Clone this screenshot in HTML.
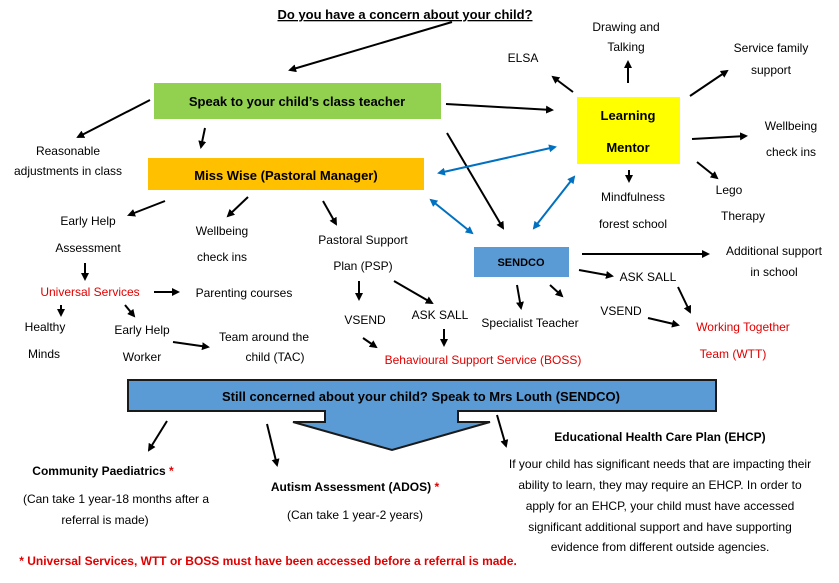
<!DOCTYPE html>
<html><head><meta charset="utf-8"><style>
html,body{margin:0;padding:0;background:#fff;}
svg{display:block;font-family:"Liberation Sans",sans-serif;}
text{font-size:12px;fill:#000;text-anchor:middle;}
.b{font-weight:bold;}
.r{fill:#e00000;}
</style></head><body>
<svg width="839" height="583" viewBox="0 0 839 583" xmlns="http://www.w3.org/2000/svg">
<defs>
<marker id="a" markerWidth="8" markerHeight="8" refX="6" refY="4" orient="auto" markerUnits="userSpaceOnUse"><path d="M0,0 L8,4 L0,8 z" fill="#000"/></marker>
<marker id="bl" markerWidth="8" markerHeight="8" refX="6" refY="4" orient="auto-start-reverse" markerUnits="userSpaceOnUse"><path d="M0,0 L8,4 L0,8 z" fill="#0070C0"/></marker>
</defs>
<text x="405" y="19" class="b" style="font-size:13px;text-decoration:underline">Do you have a concern about your child?</text>

<g stroke="#000" stroke-width="2" marker-end="url(#a)" fill="none">
<line x1="452" y1="22" x2="290" y2="70"/>
<line x1="150" y1="100" x2="78" y2="137"/>
<line x1="205" y1="128" x2="201" y2="147"/>
<line x1="446" y1="104" x2="552" y2="110"/>
<line x1="447" y1="133" x2="503" y2="228"/>
<line x1="573" y1="92" x2="553" y2="77"/>
<line x1="628" y1="83" x2="628" y2="62"/>
<line x1="690" y1="96" x2="727" y2="71"/>
<line x1="692" y1="139" x2="746" y2="136"/>
<line x1="697" y1="162" x2="717" y2="178"/>
<line x1="629" y1="170" x2="629" y2="181"/>
<line x1="165" y1="201" x2="129" y2="215"/>
<line x1="248" y1="197" x2="228" y2="216"/>
<line x1="323" y1="201" x2="336" y2="224"/>
<line x1="85" y1="263" x2="85" y2="279"/>
<line x1="154" y1="292" x2="178" y2="292"/>
<line x1="61" y1="305" x2="61" y2="315"/>
<line x1="125" y1="305" x2="134" y2="316"/>
<line x1="173" y1="342" x2="208" y2="347"/>
<line x1="359" y1="281" x2="359" y2="299"/>
<line x1="394" y1="281" x2="432" y2="303"/>
<line x1="444" y1="329" x2="444" y2="345"/>
<line x1="363" y1="338" x2="376" y2="347"/>
<line x1="517" y1="285" x2="521" y2="308"/>
<line x1="550" y1="285" x2="562" y2="296"/>
<line x1="582" y1="254" x2="708" y2="254"/>
<line x1="579" y1="270" x2="612" y2="276"/>
<line x1="678" y1="287" x2="690" y2="312"/>
<line x1="648" y1="318" x2="678" y2="325"/>
<line x1="167" y1="421" x2="149" y2="450"/>
<line x1="267" y1="424" x2="277" y2="465"/>
<line x1="497" y1="415" x2="506" y2="446"/>
</g>
<g stroke="#0070C0" stroke-width="2" marker-start="url(#bl)" marker-end="url(#bl)">
<line x1="439" y1="173" x2="555" y2="147"/>
<line x1="431" y1="200" x2="472" y2="233"/>
<line x1="534" y1="228" x2="574" y2="177"/>
</g>

<rect x="154" y="83" width="287" height="36" fill="#92D050"/>
<text x="297" y="106" class="b" style="font-size:13px">Speak to your child’s class teacher</text>
<rect x="577" y="97" width="103" height="67" fill="#FFFF00"/>
<text x="628" y="120" class="b" style="font-size:13px">Learning</text>
<text x="628" y="152" class="b" style="font-size:13px">Mentor</text>
<rect x="148" y="158" width="276" height="32" fill="#FFC000"/>
<text x="286" y="180" class="b" style="font-size:13px">Miss Wise (Pastoral Manager)</text>
<rect x="474" y="247" width="95" height="30" fill="#5B9BD5"/>
<text x="521" y="266" class="b" style="font-size:11px">SENDCO</text>

<text x="523" y="62">ELSA</text>
<text x="626" y="31">Drawing and</text>
<text x="626" y="51">Talking</text>
<text x="771" y="52">Service family</text>
<text x="771" y="74">support</text>
<text x="791" y="130">Wellbeing</text>
<text x="791" y="156">check ins</text>
<text x="729" y="194">Lego</text>
<text x="743" y="220">Therapy</text>
<text x="633" y="201">Mindfulness</text>
<text x="633" y="228">forest school</text>
<text x="68" y="155">Reasonable</text>
<text x="68" y="175">adjustments in class</text>
<text x="88" y="225">Early Help</text>
<text x="88" y="252">Assessment</text>
<text x="90" y="296" class="r">Universal Services</text>
<text x="244" y="297">Parenting courses</text>
<text x="222" y="235">Wellbeing</text>
<text x="222" y="261">check ins</text>
<text x="363" y="244">Pastoral Support</text>
<text x="363" y="270">Plan (PSP)</text>
<text x="365" y="324">VSEND</text>
<text x="440" y="319">ASK SALL</text>
<text x="483" y="364" class="r">Behavioural Support Service (BOSS)</text>
<text x="45" y="331">Healthy</text>
<text x="44" y="358">Minds</text>
<text x="142" y="334">Early Help</text>
<text x="142" y="361">Worker</text>
<text x="264" y="341">Team around the</text>
<text x="275" y="361">child (TAC)</text>
<text x="530" y="327">Specialist Teacher</text>
<text x="774" y="255">Additional support</text>
<text x="774" y="276">in school</text>
<text x="648" y="281">ASK SALL</text>
<text x="621" y="315">VSEND</text>
<text x="743" y="331" class="r">Working Together</text>
<text x="733" y="358" class="r">Team (WTT)</text>

<path d="M128,380 H716 V411 H458 V422 H490 L392,450 L293,422 H325 V411 H128 Z" fill="#5B9BD5" stroke="#1a1a1a" stroke-width="2"/>
<text x="421" y="401" class="b" style="font-size:13px">Still concerned about your child? Speak to Mrs Louth (SENDCO)</text>

<text x="103" y="475" class="b">Community Paediatrics <tspan class="r">*</tspan></text>
<text x="116" y="503">(Can take 1 year-18 months after a</text>
<text x="105" y="524">referral is made)</text>
<text x="355" y="491" class="b">Autism Assessment (ADOS) <tspan class="r">*</tspan></text>
<text x="355" y="519">(Can take 1 year-2 years)</text>
<text x="660" y="441" class="b">Educational Health Care Plan (EHCP)</text>
<text x="660" y="468">If your child has significant needs that are impacting their</text>
<text x="660" y="489">ability to learn, they may require an EHCP.  In order to</text>
<text x="660" y="510">apply for an EHCP, your child must have accessed</text>
<text x="660" y="531">significant additional support and have supporting</text>
<text x="660" y="551">evidence from different outside agencies.</text>
<text x="268" y="565" class="b r">* Universal Services, WTT or BOSS must have been accessed before a referral is made.</text>
</svg>
</body></html>
